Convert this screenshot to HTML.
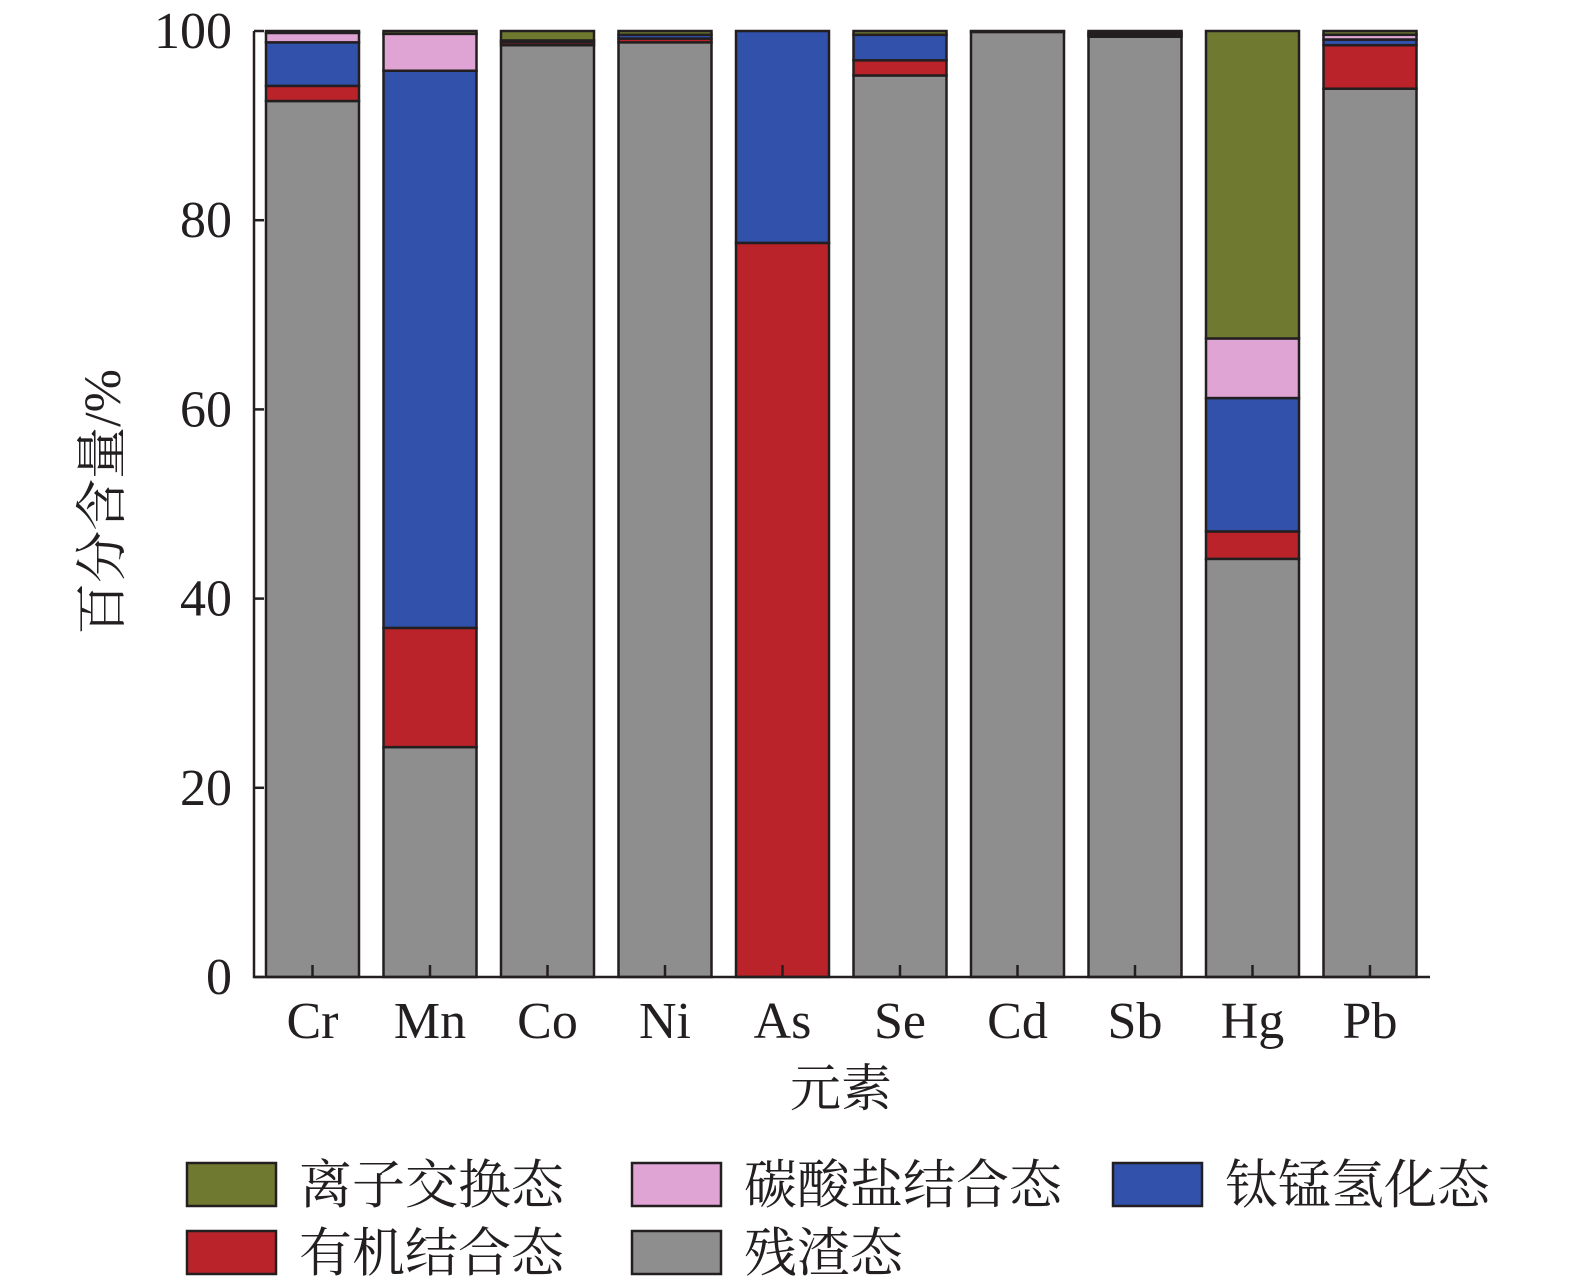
<!DOCTYPE html>
<html><head><meta charset="utf-8"><style>body{margin:0;background:#fff}svg{display:block}</style></head>
<body>
<svg id="chart" width="1575" height="1283" xmlns="http://www.w3.org/2000/svg" font-family="'Liberation Serif','Noto Serif CJK SC',serif"></svg>
<script>
const categories=["Cr","Mn","Co","Ni","As","Se","Cd","Sb","Hg","Pb"];
const residual=[92.6,24.3,98.5,98.8,0,95.3,99.9,99.4,44.2,93.9];
const organic=[1.6,12.6,0.3,0.4,77.6,1.6,0,0.2,2.9,4.6];
const feMnOxide=[4.6,58.9,0.2,0.4,22.4,2.7,0,0.2,14.1,0.6];
const carbonate=[1.0,3.9,0,0,0,0,0,0,6.3,0.5];
const exchangeable=[0.2,0.3,1.0,0.4,0,0.4,0.1,0.2,32.5,0.4];
const yTicks=[0,20,40,60,80,100];
const seriesNames=["离子交换态","碳酸盐结合态","钛锰氢化态","有机结合态","残渣态"];
const NS="http://www.w3.org/2000/svg";
const svg=document.getElementById('chart');
const x0=254,x1=1430,yb=977,yt=31;
const y=v=>yb-(v/100)*(yb-yt);
const xc=i=>312.5+117.5*i;
const bw=93;
function mk(t,a){const e=document.createElementNS(NS,t);for(const k in a)e.setAttribute(k,a[k]);svg.appendChild(e);return e;}
const stack=[["residual",residual,"#8f8e8f"],["organic",organic,"#bb232a"],["fe-mn-oxide",feMnOxide,"#3251aa"],["carbonate",carbonate,"#e0a4d4"],["exchangeable",exchangeable,"#6f7a30"]];
categories.forEach((c,i)=>{let base=0;stack.forEach(([n,arr,col])=>{const v=arr[i];if(v<=0)return;const r=mk('rect',{x:xc(i)-bw/2,y:y(base+v),width:bw,height:y(base)-y(base+v),fill:col,stroke:'#231f20','stroke-width':2.5});


base+=v;});
const t=mk('line',{x1:xc(i),x2:xc(i),y1:yb,y2:yb-12,stroke:'#231f20','stroke-width':2.5});


const l=mk('text',{x:xc(i),y:1038,'text-anchor':'middle','font-size':52,fill:'#231f20'});l.textContent=c;


});
yTicks.forEach(v=>{const t=mk('line',{x1:x0,x2:x0+10,y1:y(v),y2:y(v),stroke:'#231f20','stroke-width':2.5});


const l=mk('text',{x:232,y:y(v)+17,'text-anchor':'end','font-size':52,fill:'#231f20'});l.textContent=v;

});
const ax=mk('path',{d:`M${x0},${yt} V${yb} H${x1}`,fill:'none',stroke:'#231f20','stroke-width':2.5});


const yl=mk('text',{transform:'translate(120,502) rotate(-90)','text-anchor':'middle','font-size':52,fill:'#231f20'});yl.textContent='百分含量/%';


const xl=mk('text',{x:841,y:1106,'text-anchor':'middle','font-size':51,fill:'#231f20'});xl.textContent='元素';


const legCols=["#6f7a30","#e0a4d4","#3251aa","#bb232a","#8f8e8f"];
const legPos=[[187,1163],[632,1163],[1113,1163],[187,1231],[632,1231]];
seriesNames.forEach((n,i)=>{const [lx,ly]=legPos[i];
const r=mk('rect',{x:lx,y:ly,width:89,height:43,fill:legCols[i],stroke:'#231f20','stroke-width':2.5});


const t=mk('text',{x:lx+112,y:ly+40,'font-size':53,fill:'#231f20'});t.textContent=n;

});
</script>
</body></html>
